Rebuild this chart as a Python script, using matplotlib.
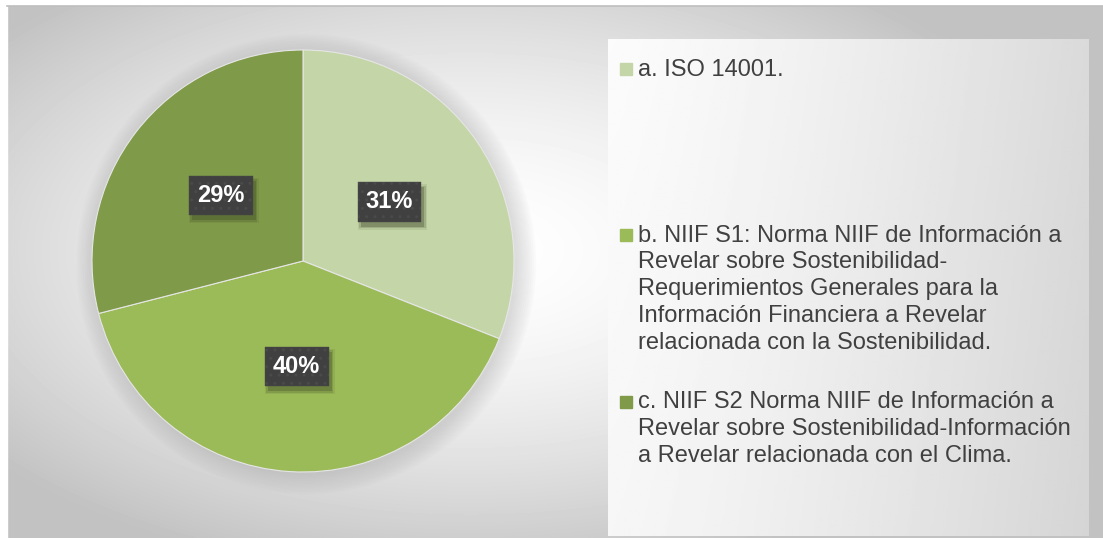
#!/usr/bin/env python3
"""normas_pie.py"""

import matplotlib.pyplot as plt
import numpy as np
from matplotlib.patches import Circle, Rectangle

plt.rcParams["font.family"] = ["Liberation Sans", "DejaVu Sans"]

# share of answers per standard
labels = [
    "a. ISO 14001.",
    "b. NIIF S1: Norma NIIF de Información a\nRevelar sobre Sostenibilidad-\n"
    "Requerimientos Generales para la\nInformación Financiera a Revelar\n"
    "relacionada con la Sostenibilidad.",
    "c. NIIF S2 Norma NIIF de Información a\nRevelar sobre Sostenibilidad-Información\n"
    "a Revelar relacionada con el Clima.",
]
values = [31, 40, 29]
colors = ["#c4d6a8", "#9bbb59", "#7f9a48"]

W, H = 1103, 538  # figure size in pixels


def background(fig):
    """grey radial gradient behind everything, plus the lighter legend panel"""
    bg = fig.add_axes([0, 0, 1, 1], zorder=-10)
    yy, xx = np.mgrid[0:H, 0:W]
    d = np.hypot((xx - 470) / 620, (yy - 250) / 330)
    shade = 1 - 0.24 * np.clip(d, 0, 1) ** 1.6
    bg.imshow(shade, cmap="gray", vmin=0, vmax=1, extent=[0, W, H, 0], aspect="auto")
    # legend panel: linear gradient white -> light grey
    gx = np.linspace(0, 1, 200)
    panel = 0.985 - 0.13 * gx[None, :] ** 1.3 - 0.02 * np.linspace(0, 1, 100)[:, None]
    bg.imshow(panel, cmap="gray", vmin=0, vmax=1, extent=[608, 1089, 536, 39], aspect="auto")
    bg.add_patch(Rectangle((0, 0), 7, H, color="white"))
    bg.add_patch(Rectangle((0, 0), W, 5, color="white"))
    bg.plot([7, W], [6, 6], color="#bdbdbd", lw=1.2)
    bg.set_xlim(0, W)
    bg.set_ylim(H, 0)
    bg.axis("off")


def plot(fig, ax):
    # soft shadow round the pie
    for r in np.linspace(1.0, 1.09, 10):
        ax.add_patch(Circle((0.015, -0.015), r, color="#9a9a9a", alpha=0.035, lw=0,
                            clip_on=False))
    ax.pie(values, colors=colors, startangle=90, counterclock=False, radius=1,
           wedgeprops=dict(linewidth=0.8, edgecolor="#e6e6e6"))
    # label boxes, positions in axis units as Excel puts them
    spots = [(0.41, 0.28), (-0.03, -0.50), (-0.39, 0.31)]
    boxes = []
    for v, (x, y) in zip(values, spots):
        t = ax.text(x, y, f"{v}%", color="white", fontsize=17, weight="bold", ha="center",
                    va="center", zorder=5,
                    bbox=dict(boxstyle="square,pad=0.35", fc="#404040", ec="#4a4a4a",
                              hatch="..", lw=0.3))
        boxes.append(t)
    ax.set_xlim(-1, 1)
    ax.set_ylim(-1, 1)
    ax.set_aspect("equal")
    ax.axis("off")
    # drop shadows under the boxes, measured once the boxes are laid out
    fig.canvas.draw()
    for t in boxes:
        bb = t.get_bbox_patch().get_window_extent()
        for k, a in [(0, 0.3), (1.5, 0.18), (3, 0.1)]:
            ax.add_patch(Rectangle((bb.x0 + 3 - k, bb.y0 - 5 - k), bb.width + 2 * k,
                                   bb.height + 2 * k, transform=None, fc="#3c4424",
                                   ec="none", alpha=a, zorder=4))


def legend(fig):
    tops = [58.5, 224.5, 391.5]  # top of each entry, pixels from the top
    for lab, c, t in zip(labels, colors, tops):
        fig.patches.append(Rectangle((620 / W, 1 - (t + 16.5) / H), 12 / W, 12 / H,
                                     transform=fig.transFigure, color=c))
        fig.text(638 / W, 1 - t / H, lab, fontsize=17, color="#404040", va="top",
                 ha="left", linespacing=1.285)


def main():
    fig = plt.figure(figsize=(W / 100, H / 100), dpi=100)
    background(fig)
    r = 211
    ax = fig.add_axes([(303 - r) / W, (H - 261 - r) / H, 2 * r / W, 2 * r / H])
    legend(fig)
    plot(fig, ax)
    fig.savefig("out.png", dpi=100)


if __name__ == "__main__":
    main()
